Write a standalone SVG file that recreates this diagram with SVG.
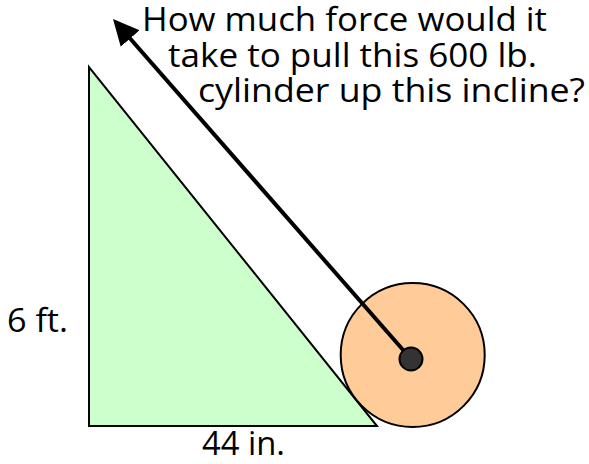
<svg xmlns="http://www.w3.org/2000/svg" width="589" height="464" viewBox="0 0 589 464">
<style>
  .lbl { font-family: "Open Sans", "Liberation Sans", sans-serif; font-size: 33px; fill: #000; }
  .ramp { fill: #CCFFCC; stroke: #000; stroke-width: 2; }
  .wheel { fill: #FFCC99; stroke: #000; stroke-width: 2; }
  .hub { fill: #333333; stroke: #000; stroke-width: 2; }
  .rope { stroke: #000; stroke-width: 4; fill: none; }
</style>
<defs>
  <marker id="arrow" viewBox="0 0 26 25" markerWidth="26" markerHeight="25" refX="16" refY="12.5" orient="auto" markerUnits="userSpaceOnUse">
    <path d="M0,0 L26,12.5 L0,25 z" fill="#000"/>
  </marker>
</defs>
<rect width="589" height="464" fill="#fff"/>
<g id="incline">
  <polygon class="ramp" points="89,67 89,426 377,426"/>
  <text class="lbl" x="7" y="332" textLength="61" lengthAdjust="spacingAndGlyphs">6 ft.</text>
  <text class="lbl" x="202" y="455" textLength="83" lengthAdjust="spacingAndGlyphs">44 in.</text>
</g>
<g id="cylinder">
  <circle class="wheel" cx="412.7" cy="355" r="72"/>
</g>
<g id="connectors">
  <path class="rope" d="M411,359 L119.6,26.5" marker-end="url(#arrow)"/>
</g>
<g id="hub">
  <circle class="hub" cx="411" cy="359" r="11.5"/>
</g>
<g id="question">
  <text class="lbl" x="142" y="31" textLength="405" lengthAdjust="spacingAndGlyphs">How much force would it</text>
  <text class="lbl" x="168" y="67" textLength="369" lengthAdjust="spacingAndGlyphs">take to pull this 600 lb.</text>
  <text class="lbl" x="198" y="102" textLength="387" lengthAdjust="spacingAndGlyphs">cylinder up this incline?</text>
</g>
</svg>
